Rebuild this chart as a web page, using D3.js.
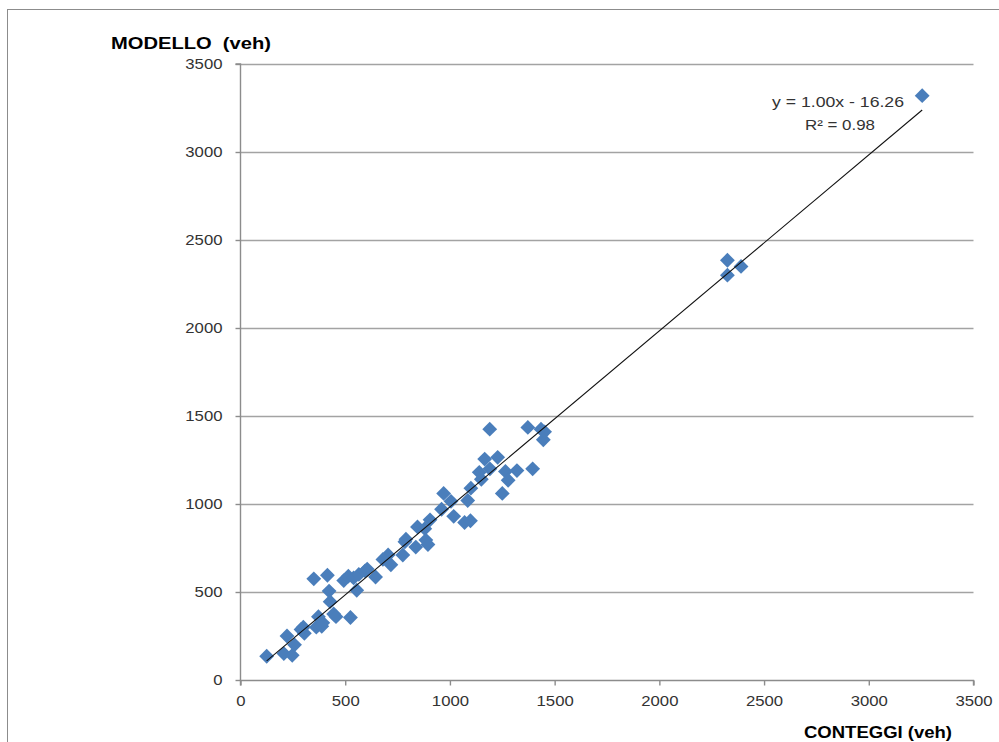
<!DOCTYPE html>
<html>
<head>
<meta charset="utf-8">
<script src="https://cdn.jsdelivr.net/npm/d3@7"></script>
<style>
  html, body { margin: 0; padding: 0; background: #fff; }
  svg { display: block; }
  .pre { white-space: pre; }
</style>
</head>
<body>
<svg id="chart" width="999" height="742"></svg>
<script>
// ---- data ----
const conteggi = [125,207,222,247,258,289,305,300,350,362,372,388,393,415,423,428,445,456,493,515,525,540,555,565,595,605,645,680,705,718,775,785,790,837,845,880,885,895,905,960,970,1005,1018,1070,1085,1098,1100,1150,1140,1166,1190,1191,1228,1250,1265,1278,1320,1372,1395,1435,1446,1452,2325,2325,2390,3255];
const modello  = [135,150,250,140,200,287,265,300,575,300,360,305,325,595,505,445,375,360,565,590,355,580,510,600,620,630,585,685,710,655,710,785,800,755,870,860,795,770,910,970,1060,1015,930,895,1020,905,1090,1140,1180,1255,1425,1200,1265,1060,1185,1135,1190,1435,1200,1425,1365,1410,2385,2300,2350,3320];
const tickValues = [0,500,1000,1500,2000,2500,3000,3500];
const slope = 1.00, intercept = -16.26;
const eqLabel = "y = 1.00x - 16.26";
const r2Label = "R² = 0.98";
const xTitle = "CONTEGGI (veh)";
const yTitle = "MODELLO  (veh)";

// ---- layout ----
const svg = d3.select("#chart");
const x = d3.scaleLinear().domain([0, 3500]).range([240.5, 973.5]);
const y = d3.scaleLinear().domain([0, 3500]).range([680, 64]);

// outer border
svg.append("rect").attr("x", 7.5).attr("y", 9.5).attr("width", 1000).attr("height", 800)
  .attr("fill", "none").attr("stroke", "#8c8c8c").attr("stroke-width", 1);

// gridlines
svg.append("g").selectAll("line").data(tickValues.filter(d => d > 0)).join("line")
  .attr("x1", x(0)).attr("x2", x(3500))
  .attr("y1", d => Math.round(y(d)) + 0.5).attr("y2", d => Math.round(y(d)) + 0.5)
  .attr("stroke", "#a3a3a3").attr("stroke-width", 1.4);

// axes
const tickFont = g => g.selectAll("text")
  .attr("font-family", "'Liberation Sans', Arial, sans-serif")
  .attr("font-size", 14).attr("fill", "#333")
  .attr("textLength", d => String(d).length * 9.3)
  .attr("lengthAdjust", "spacingAndGlyphs");

const xAxis = svg.append("g").attr("transform", `translate(0,${680.5})`)
  .call(d3.axisBottom(x).tickValues(tickValues).tickSize(5).tickPadding(11).tickFormat(d3.format("d")));
const yAxis = svg.append("g").attr("transform", `translate(${240.5},0)`)
  .call(d3.axisLeft(y).tickValues(tickValues).tickSize(5).tickPadding(13).tickFormat(d3.format("d")));
[xAxis, yAxis].forEach(a => {
  a.select(".domain").attr("stroke", "#8c8c8c").attr("stroke-width", 1.4);
  a.selectAll(".tick line").attr("stroke", "#8c8c8c").attr("stroke-width", 1.4);
  a.call(tickFont);
});
xAxis.selectAll(".domain").attr("d", `M${x(0)},5V0H${x(3500)}V5`);
yAxis.selectAll(".domain").attr("d", `M-5,${y(3500)}H0V${y(0)}`);

// markers
const diamond = d3.symbol().type(d3.symbolSquare).size(110);
svg.append("g").selectAll("path").data(conteggi.map((c, i) => [c, modello[i]])).join("path")
  .attr("d", diamond)
  .attr("transform", d => `translate(${x(d[0])},${y(d[1])}) rotate(45)`)
  .attr("fill", "#4a7ebb");

// trend line
const xmin = d3.min(conteggi), xmax = d3.max(conteggi);
svg.append("line")
  .attr("x1", x(xmin)).attr("y1", y(slope * xmin + intercept))
  .attr("x2", x(xmax)).attr("y2", y(slope * xmax + intercept))
  .attr("stroke", "#111").attr("stroke-width", 1.1);

// equation labels
svg.append("text").attr("x", 838).attr("y", 106.5).attr("text-anchor", "middle")
  .attr("font-family", "'Liberation Sans', Arial, sans-serif").attr("font-size", 15)
  .attr("fill", "#333").attr("textLength", 132).attr("lengthAdjust", "spacingAndGlyphs")
  .text(eqLabel);
svg.append("text").attr("x", 840).attr("y", 130).attr("text-anchor", "middle")
  .attr("font-family", "'Liberation Sans', Arial, sans-serif").attr("font-size", 15)
  .attr("fill", "#333").attr("textLength", 70).attr("lengthAdjust", "spacingAndGlyphs")
  .text(r2Label);

// axis titles
svg.append("text").attr("class", "pre").attr("x", 111).attr("y", 49).attr("text-anchor", "start")
  .attr("font-family", "'Liberation Sans', Arial, sans-serif").attr("font-size", 17)
  .attr("font-weight", "bold").attr("fill", "#000")
  .attr("textLength", 160).attr("lengthAdjust", "spacingAndGlyphs")
  .text(yTitle);
svg.append("text").attr("x", 804).attr("y", 738).attr("text-anchor", "start")
  .attr("font-family", "'Liberation Sans', Arial, sans-serif").attr("font-size", 17)
  .attr("font-weight", "bold").attr("fill", "#000")
  .attr("textLength", 148).attr("lengthAdjust", "spacingAndGlyphs")
  .text(xTitle);
</script>
</body>
</html>
